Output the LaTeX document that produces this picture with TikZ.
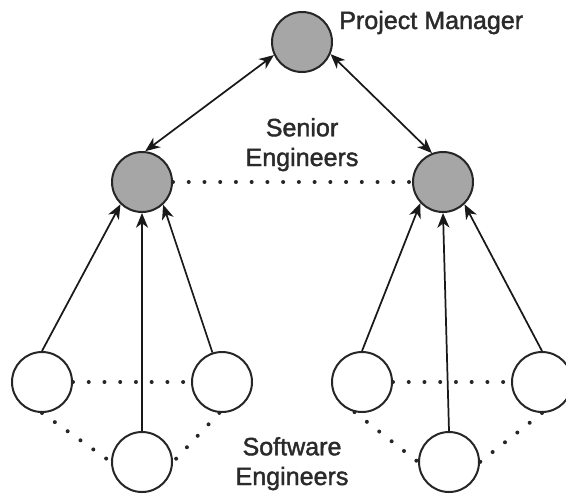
\documentclass[tikz,border=0pt]{standalone}
\usepackage{fontspec}
\setmainfont{Liberation Sans}
\newfontfamily\lblfont[FakeBold=1.6]{Liberation Sans}
\usetikzlibrary{arrows.meta}
\definecolor{fillgray}{HTML}{A6A6A6}
\definecolor{txt}{HTML}{2A2A2A}
\begin{document}
\begin{tikzpicture}[x=0.75pt,y=-0.75pt,
  person/.style={circle,draw=black!85,line width=1.5pt,minimum size=45pt,inner sep=0pt},
  senior/.style={person,fill=fillgray},
  junior/.style={person,fill=white},
  tip/.tip={Stealth[length=11pt,width=9pt,inset=3.3pt]},
  link/.style={draw=black!90,line width=1.3pt,-tip},
  dlink/.style={draw=black!90,line width=1.3pt,tip-tip},
  dots/.style={draw=black!85,line width=3pt,line cap=round,dash pattern=on 0pt off 11.8pt},
  lbl/.style={font=\lblfont\fontsize{18.8}{22.3}\selectfont,text=txt,inner sep=0pt}
]
\useasboundingbox (0,0) rectangle (566,493);

% people
\node[senior] (pm) at (302,42) {};
\node[senior] (s1) at (142,182) {};
\node[senior] (s2) at (443,182) {};
\node[junior] (a1) at (42,382) {};
\node[junior] (a2) at (222,382) {};
\node[junior] (a3) at (142,462) {};
\node[junior] (b1) at (362,382) {};
\node[junior] (b2) at (542,382) {};
\node[junior] (b3) at (449,462) {};

% labels
\node[lbl,anchor=base west] (lpm) at (339,29) {Project Manager};
\node[lbl,align=center,anchor=base] (lse) at (302,166) {Senior\\Engineers};
\node[lbl,align=center,anchor=base] (lsw) at (292,485) {Software\\Engineers};

% reporting lines
\draw[dlink] (pm.205) -- (s1.84);
\draw[dlink] (pm.337) -- (s2.111);
\draw[link] (a1.north) -- (s1.226);
\draw[link] (a3.north) -- (s1.south);
\draw[link] (a2.108) -- (s1.313);
\draw[link] (b1.north) -- (s2.223);
\draw[link] (b3.north) -- (s2.south);
\draw[link] (b2.north) -- (s2.314);

% peer links
\draw[dots] (s1.east) -- (s2.west);
\draw[dots] (a1.east) -- (a2.west);
\draw[dots] (a1.south) -- (a3.west);
\draw[dots] (a2.265) -- (a3.east);
\draw[dots] (b1.east) -- (b2.west);
\draw[dots] (b1.256) -- (b3.west);
\draw[dots] (b2.south) -- (b3.east);
\end{tikzpicture}
\end{document}
